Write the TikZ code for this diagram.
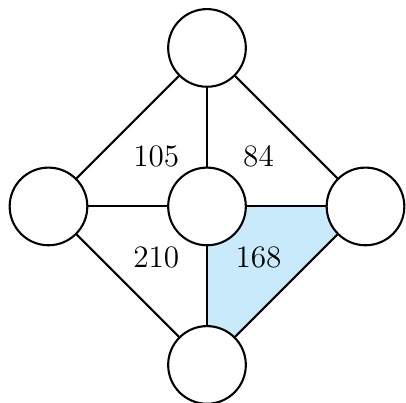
\documentclass[tikz,border=0pt]{standalone}
\begin{document}
\begin{tikzpicture}[
  vert/.style={circle, draw, fill=white, line width=0.75pt, minimum size=0.98cm, inner sep=0pt},
  edge/.style={line width=0.75pt},
  lab/.style={font=\fontsize{11.2}{13}\selectfont, inner sep=0pt}
]
\definecolor{lightfill}{RGB}{200,234,250}
\useasboundingbox (-2.612,-2.479) rectangle (2.511,2.605);
\coordinate (pc) at (0,0);
\coordinate (pr) at (2,0);
\coordinate (pb) at (0,-2);
\fill[lightfill] (pc) -- (pr) -- (pb) -- cycle;
\node[vert] (t) at (0,2) {};
\node[vert] (l) at (-2,0) {};
\node[vert] (c) at (0,0) {};
\node[vert] (r) at (2,0) {};
\node[vert] (b) at (0,-2) {};
\draw[edge] (t) -- (l);
\draw[edge] (t) -- (c);
\draw[edge] (t) -- (r);
\draw[edge] (l) -- (c);
\draw[edge] (c) -- (r);
\draw[edge] (l) -- (b);
\draw[edge] (c) -- (b);
\draw[edge] (r) -- (b);
\node[lab] (n105) at (-0.64,0.63) {105};
\node[lab] (n84) at (0.65,0.63) {84};
\node[lab] (n210) at (-0.64,-0.64) {210};
\node[lab] (n168) at (0.65,-0.64) {168};
\end{tikzpicture}
\end{document}
